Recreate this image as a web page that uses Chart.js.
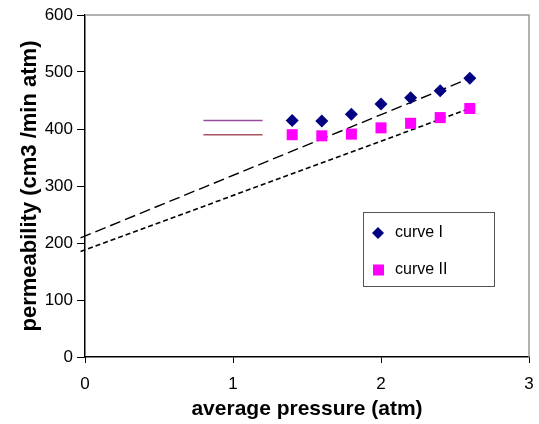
<!DOCTYPE html>
<html>
<head>
<meta charset="utf-8">
<script src="https://cdn.jsdelivr.net/npm/chart.js@4"></script>
<style>
  html, body { margin: 0; padding: 0; background: #fff; }
  #wrap { width: 539px; height: 424px; }
</style>
</head>
<body>
<div id="wrap"><canvas id="permChart" width="539" height="424"></canvas></div>
<script>
// measured data
const pressure = [1.4, 1.6, 1.8, 2.0, 2.2, 2.4, 2.6];
const curveI = [415, 414, 426, 444, 455, 467, 489];
const curveII = [390, 388, 391, 402, 410, 420, 436];

// fitted straight lines (end points)
const fitX = [-0.03, 2.6];
const fitI = [209, 489];
const fitII = [185, 436];

// the two short horizontal marks
const markX = [0.8, 1.2];
const markPurple = [415, 415];
const markRed = [390, 390];

const legendLabels = ['curve I', 'curve II'];
const xTicks = [0, 1, 2, 3];
const yTicks = [0, 100, 200, 300, 400, 500, 600];

const FONT = '"Liberation Sans", Arial, sans-serif';

function pts(xs, ys) {
  return xs.map((x, i) => ({ x: x, y: ys[i] }));
}

// gray frame on top/right + legend box
const framePlugin = {
  id: 'frame',
  afterDraw(chart) {
    const { ctx, chartArea: a } = chart;
    ctx.save();
    ctx.strokeStyle = '#999';
    ctx.lineWidth = 1.5;
    ctx.beginPath();
    ctx.moveTo(a.left, a.top);
    ctx.lineTo(a.right, a.top);
    ctx.lineTo(a.right, a.bottom);
    ctx.stroke();

    // legend
    const bx = 363, by = 212, bw = 131, bh = 74;
    ctx.fillStyle = '#fff';
    ctx.fillRect(bx, by, bw, bh);
    ctx.strokeStyle = '#555';
    ctx.lineWidth = 1;
    ctx.strokeRect(bx + 0.5, by + 0.5, bw, bh);

    ctx.font = '16px ' + FONT;
    ctx.textBaseline = 'middle';

    // diamond
    const dy = by + 21;
    ctx.fillStyle = '#000080';
    ctx.beginPath();
    ctx.moveTo(378, dy - 6);
    ctx.lineTo(384, dy);
    ctx.lineTo(378, dy + 6);
    ctx.lineTo(372, dy);
    ctx.closePath();
    ctx.fill();
    ctx.fillStyle = '#000';
    ctx.fillText(legendLabels[0], 395, dy);

    // square
    const sy = by + 58;
    ctx.fillStyle = '#ff00ff';
    ctx.fillRect(373, sy - 5.5, 11, 11);
    ctx.fillStyle = '#000';
    ctx.fillText(legendLabels[1], 395, sy);
    ctx.restore();
  }
};

new Chart(document.getElementById('permChart'), {
  type: 'scatter',
  data: {
    datasets: [
      {
        label: 'fit I',
        data: pts(fitX, fitI),
        showLine: true,
        borderColor: '#000',
        borderWidth: 1.4,
        borderDash: [11, 5],
        pointRadius: 0,
        clip: false,
        order: 3
      },
      {
        label: 'fit II',
        data: pts(fitX, fitII),
        showLine: true,
        borderColor: '#000',
        borderWidth: 1.6,
        borderDash: [5, 3],
        pointRadius: 0,
        clip: false,
        order: 3
      },
      {
        label: 'mark purple',
        data: pts(markX, markPurple),
        showLine: true,
        borderColor: '#9a4a9e',
        borderWidth: 1.5,
        pointRadius: 0
      },
      {
        label: 'mark red',
        data: pts(markX, markRed),
        showLine: true,
        borderColor: '#a85560',
        borderWidth: 1.5,
        pointRadius: 0
      },
      {
        label: 'curve I',
        data: pts(pressure, curveI),
        pointStyle: 'rectRot',
        pointRadius: 6.5,
        backgroundColor: '#000080',
        borderColor: '#000080',
        borderWidth: 0,
        order: 1
      },
      {
        label: 'curve II',
        data: pts(pressure, curveII),
        pointStyle: 'rect',
        pointRadius: 7.8,
        backgroundColor: '#ff00ff',
        borderColor: '#ff00ff',
        borderWidth: 0,
        order: 2
      }
    ]
  },
  options: {
    responsive: false,
    animation: false,
    layout: { padding: { top: 15, right: 10, left: 0, bottom: 0 } },
    plugins: {
      legend: { display: false },
      tooltip: { enabled: false }
    },
    scales: {
      x: {
        type: 'linear',
        min: 0,
        max: 3,
        afterFit: s => {
          s.height = 67;
          s.paddingLeft = 0;
          s.paddingRight = 0;
        },
        afterBuildTicks: s => { s.ticks = xTicks.map(v => ({ value: v })); },
        grid: { drawOnChartArea: false, drawTicks: true, tickLength: 6, color: '#000' },
        border: { color: '#000', width: 1.5 },
        ticks: { color: '#000', font: { family: FONT, size: 17 }, padding: 11 },
        title: {
          display: true,
          text: 'average pressure (atm)',
          color: '#000',
          font: { family: FONT, size: 21, weight: 'bold' },
          padding: { top: 0, bottom: 2 }
        }
      },
      y: {
        type: 'linear',
        min: 0,
        max: 600,
        afterFit: s => { s.width = 85; },
        afterBuildTicks: s => { s.ticks = yTicks.map(v => ({ value: v })); },
        grid: { drawOnChartArea: false, drawTicks: true, tickLength: 8, color: '#000' },
        border: { color: '#000', width: 1.5 },
        ticks: { color: '#000', font: { family: FONT, size: 17 }, padding: 4 },
        title: {
          display: true,
          text: 'permeability (cm3 /min atm)',
          color: '#000',
          font: { family: FONT, size: 22, weight: 'bold' },
          padding: { top: 17, bottom: 0 }
        }
      }
    }
  },
  plugins: [framePlugin]
});
</script>
</body>
</html>
